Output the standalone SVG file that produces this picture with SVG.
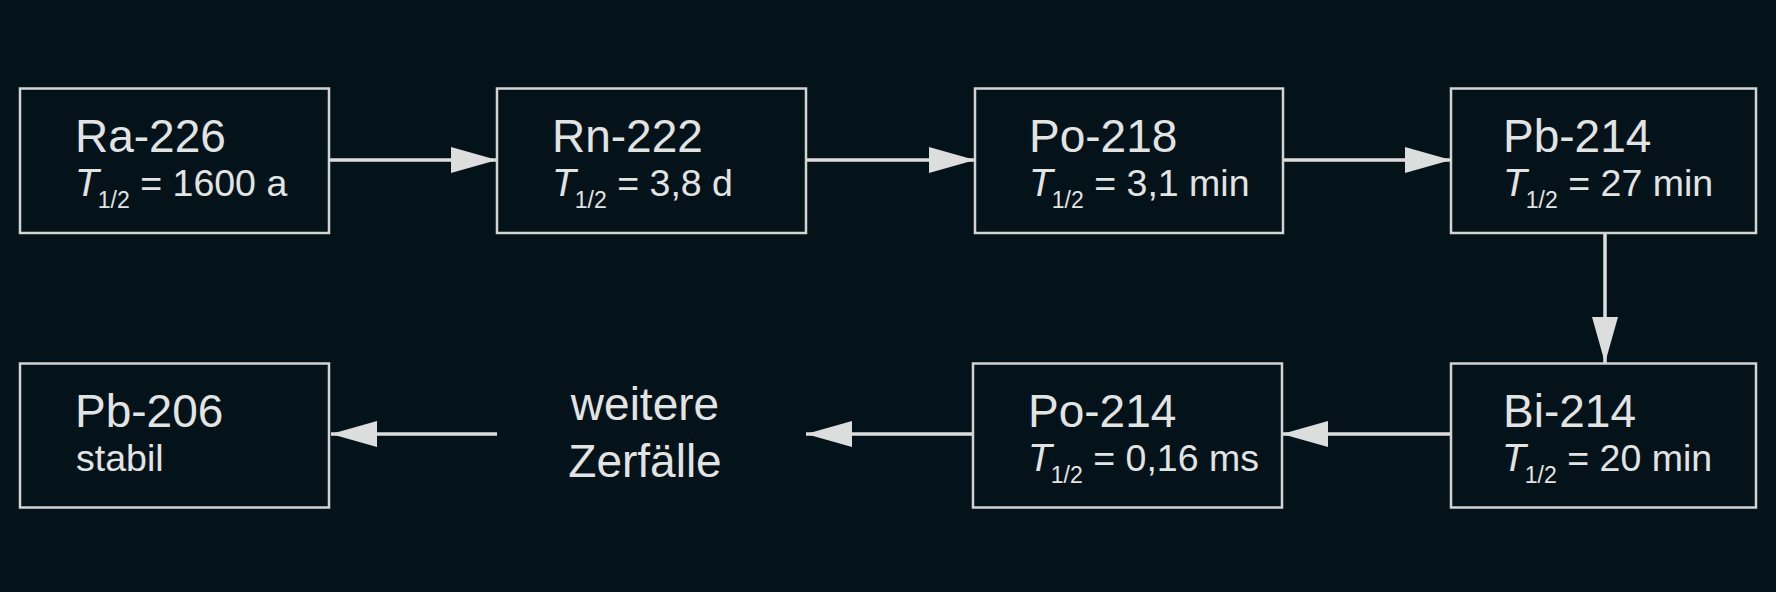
<svg xmlns="http://www.w3.org/2000/svg" width="1776" height="592" viewBox="0 0 1776 592">
<defs>
<style>
.box{fill:#04131a;stroke:#d2d4d4;stroke-width:2.5}
.t1{font-family:"Liberation Sans",Arial,sans-serif;font-size:46px;fill:#e2e4e4}
.t2{font-family:"Liberation Sans",Arial,sans-serif;font-size:37.5px;fill:#e2e4e4}
.it{font-style:italic;font-size:39px}
.sub{font-size:23px}
.conn{stroke:#dcdede;stroke-width:3.5;fill:none;marker-end:url(#ah)}
</style>
<marker id="ah" markerUnits="userSpaceOnUse" markerWidth="48" markerHeight="28" refX="46" refY="13" orient="auto">
<path d="M0,0 L46,13 L0,26 Z" fill="#dcdede"/>
</marker>
</defs>
<rect width="1776" height="592" fill="#04131a"/>
<g id="connectors">
<line class="conn" x1="330" y1="160" x2="497" y2="160"/>
<line class="conn" x1="806" y1="160" x2="975" y2="160"/>
<line class="conn" x1="1283" y1="160" x2="1451" y2="160"/>
<line class="conn" x1="1605" y1="233" x2="1605" y2="363"/>
<line class="conn" x1="1451" y1="434" x2="1282" y2="434"/>
<line class="conn" x1="973" y1="434" x2="806" y2="434"/>
<line class="conn" x1="497" y1="434" x2="331" y2="434"/>
</g>
<g id="ra226">
<rect class="box" x="20" y="88.5" width="309" height="144.5"/>
<text class="t1" x="75" y="152">Ra-226</text>
<text class="t2" x="75" y="196"><tspan class="it">T</tspan><tspan class="sub" dx="-1" dy="12">1/2</tspan><tspan dy="-12"> = 1600 a</tspan></text>
</g>
<g id="rn222">
<rect class="box" x="497" y="88.5" width="309" height="144.5"/>
<text class="t1" x="552" y="152">Rn-222</text>
<text class="t2" x="552" y="196"><tspan class="it">T</tspan><tspan class="sub" dx="-1" dy="12">1/2</tspan><tspan dy="-12"> = 3,8 d</tspan></text>
</g>
<g id="po218">
<rect class="box" x="975" y="88.5" width="308" height="144.5"/>
<text class="t1" x="1029" y="152">Po-218</text>
<text class="t2" x="1029" y="196"><tspan class="it">T</tspan><tspan class="sub" dx="-1" dy="12">1/2</tspan><tspan dy="-12"> = 3,1 min</tspan></text>
</g>
<g id="pb214">
<rect class="box" x="1451" y="88.5" width="305" height="144.5"/>
<text class="t1" x="1503" y="152">Pb-214</text>
<text class="t2" x="1503" y="196"><tspan class="it">T</tspan><tspan class="sub" dx="-1" dy="12">1/2</tspan><tspan dy="-12"> = 27 min</tspan></text>
</g>
<g id="bi214">
<rect class="box" x="1451" y="363.5" width="305" height="144"/>
<text class="t1" x="1503" y="427">Bi-214</text>
<text class="t2" x="1502" y="471"><tspan class="it">T</tspan><tspan class="sub" dx="-1" dy="12">1/2</tspan><tspan dy="-12"> = 20 min</tspan></text>
</g>
<g id="po214">
<rect class="box" x="973" y="363.5" width="309" height="144"/>
<text class="t1" x="1028" y="427">Po-214</text>
<text class="t2" x="1028" y="471"><tspan class="it">T</tspan><tspan class="sub" dx="-1" dy="12">1/2</tspan><tspan dy="-12"> = 0,16 ms</tspan></text>
</g>
<g id="weitere">
<text class="t1" x="645" y="420" text-anchor="middle">weitere</text>
<text class="t1" x="645" y="477" text-anchor="middle">Zerfälle</text>
</g>
<g id="pb206">
<rect class="box" x="20" y="363.5" width="309" height="144"/>
<text class="t1" x="75" y="427">Pb-206</text>
<text class="t2" x="76" y="471">stabil</text>
</g>
</svg>
